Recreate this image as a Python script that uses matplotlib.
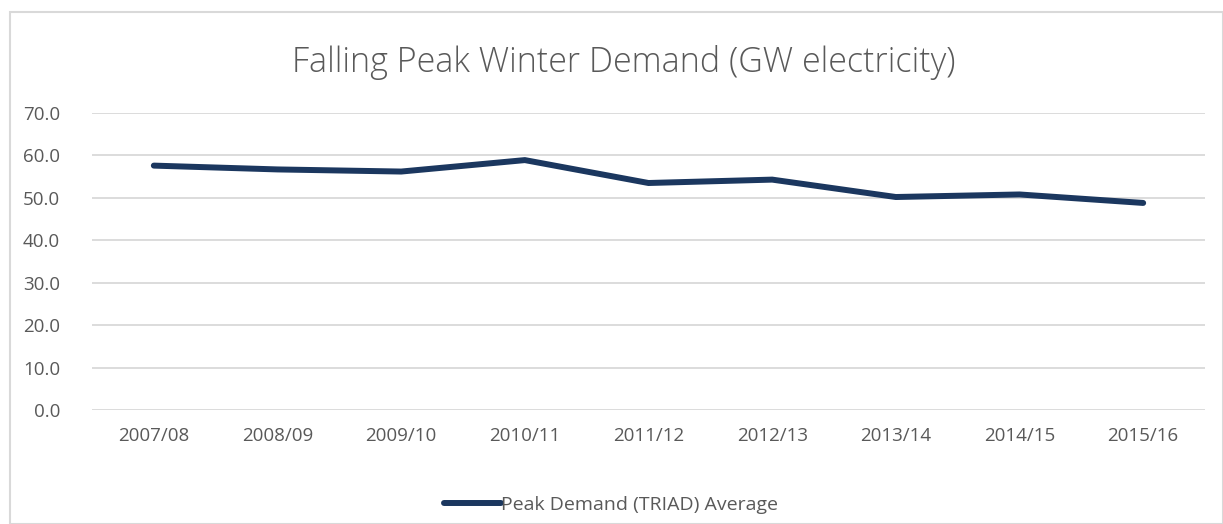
"""
Falling Peak Winter Demand (GW electricity) — Excel 风格折线图复刻
"""
import matplotlib
matplotlib.use("Agg")
import matplotlib.pyplot as plt
from matplotlib.patches import Rectangle
from matplotlib.lines import Line2D

plt.rcParams["font.family"] = ["Open Sans", "DejaVu Sans"]

YEARS = ["2007/08", "2008/09", "2009/10", "2010/11", "2011/12",
         "2012/13", "2013/14", "2014/15", "2015/16"]
PEAK_DEMAND = [57.6, 56.7, 56.2, 58.9, 53.5, 54.3, 50.2, 50.8, 48.8]
Y_TICKS = [0, 10, 20, 30, 40, 50, 60, 70]

LINE_COLOR = "#1B375F"
TEXT_COLOR = "#595959"
GRID_COLOR = "#D9D9D9"

W, H = 1223, 524
fig = plt.figure(figsize=(W / 100, H / 100), dpi=100)

# chart border
fig.patches.append(Rectangle((10 / W, 0), 1 - 10 / W, 1 - 12 / H,
                             transform=fig.transFigure, fill=False,
                             edgecolor=GRID_COLOR, lw=1.5))

ax = fig.add_axes([92 / W, (H - 410) / H, (1205 - 92) / W, (410 - 113) / H])
x = range(len(YEARS))
ax.plot(x, PEAK_DEMAND, color=LINE_COLOR, lw=4.3, solid_capstyle="round",
        solid_joinstyle="miter")

ax.set_xlim(-0.5, len(YEARS) - 0.5)
ax.set_ylim(0, 70)
ax.set_yticks(Y_TICKS)
ax.set_yticklabels([f"{v:.1f}" for v in Y_TICKS])
ax.set_xticks(list(x))
ax.set_xticklabels(YEARS)
ax.tick_params(length=0, labelsize=13.5, colors=TEXT_COLOR, pad=12)
ax.tick_params(axis="y", pad=23)
for s in ax.spines.values():
    s.set_visible(False)
ax.grid(axis="y", color=GRID_COLOR, lw=1.3)
ax.set_axisbelow(True)

fig.text(624 / W, 1 - 62 / H, "Falling Peak Winter Demand (GW electricity)",
         ha="center", va="center", fontsize=24.5, color=TEXT_COLOR,
         fontweight="light")

leg_handle = Line2D([], [], color=LINE_COLOR, lw=4.3, solid_capstyle="round")
fig.legend([leg_handle], ["Peak Demand (TRIAD) Average"], loc="center",
           bbox_to_anchor=(611 / W, 1 - 505 / H), frameon=False,
           fontsize=14, labelcolor=TEXT_COLOR, handlelength=2.9,
           handletextpad=0.0)

fig.savefig("out.png", dpi=100)
